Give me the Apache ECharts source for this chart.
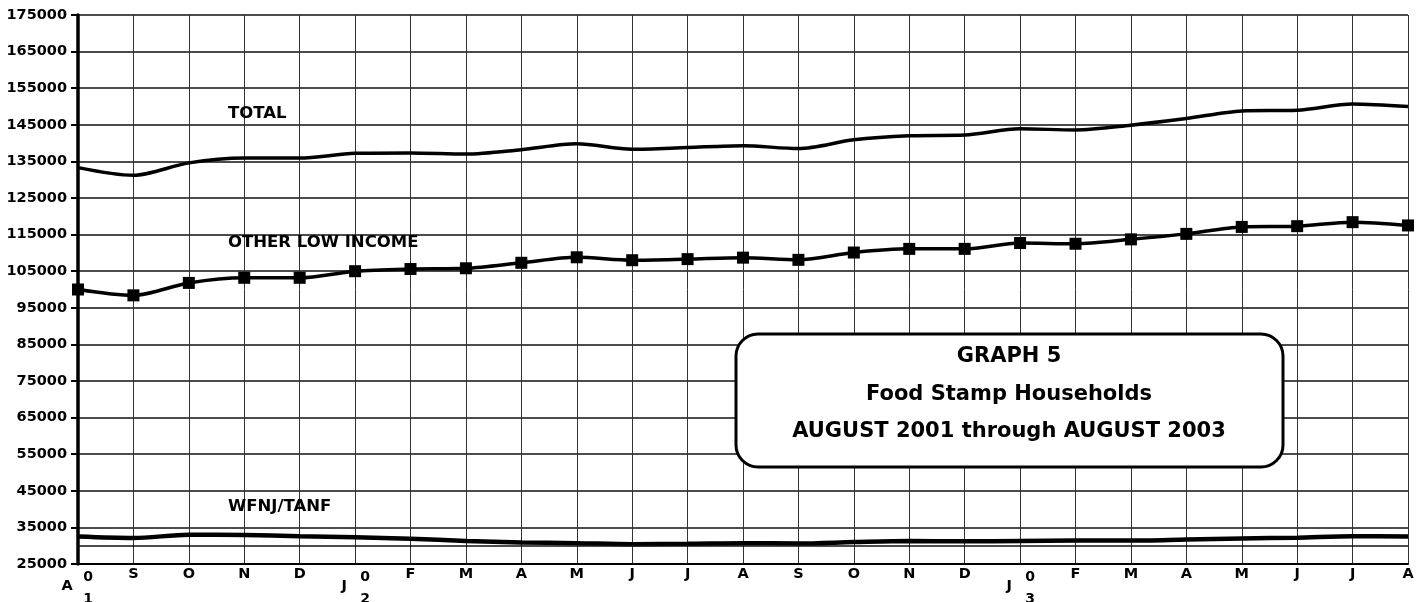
<!DOCTYPE html>
<html>
<head>
<meta charset="utf-8">
<script src="https://cdn.jsdelivr.net/npm/echarts@6/dist/echarts.min.js"></script>
<style>
html,body{margin:0;padding:0;background:#fff;}
#chart{width:1423px;height:602px;}
</style>
</head>
<body>
<div id="chart"></div>
<script>
// ---- data ----
const months = ['A','S','O','N','D','J','F','M','A','M','J','J','A','S','O','N','D','J','F','M','A','M','J','J','A'];
const yearMarks = {0:['0','1'], 5:['0','2'], 17:['0','3']};
const total = [133300,131200,134600,135900,135900,137200,137300,137000,138200,139800,138300,138800,139300,138500,140900,142000,142200,143900,143600,144900,146700,148800,149000,150700,150000];
const otherLowIncome = [100000,98400,101800,103200,103200,105000,105600,105800,107300,108800,108000,108300,108700,108100,110100,111100,111100,112700,112500,113700,115200,117100,117300,118400,117500];
const wfnjTanf = [32500,32100,33000,32900,32600,32300,31900,31300,30900,30700,30400,30500,30700,30600,31000,31300,31200,31300,31400,31400,31700,32000,32200,32600,32500];
const yMin = 25000, yMax = 175000, yStep = 10000;
const extraGridValues = [30000];
const seriesNames = ['TOTAL','OTHER LOW INCOME','WFNJ/TANF'];
const titleLines = ['GRAPH 5','Food Stamp Households','AUGUST 2001 through AUGUST 2003'];

const FONT = 'DejaVu Sans';
const chart = echarts.init(document.getElementById('chart'));

const option = {
  animation: false,
  backgroundColor: '#fff',
  grid: {left: 78, right: 15, top: 15, bottom: 38, containLabel: false, outerBoundsMode: 'none'},
  xAxis: [{
    type: 'category',
    data: months,
    boundaryGap: false,
    axisLine: {show: true, lineStyle: {color: '#000', width: 2}},
    axisTick: {show: false},
    splitLine: {show: true, lineStyle: {color: '#333', width: 1}},
    axisLabel: {
      interval: 0, margin: 3,
      formatter: (v, i) => (yearMarks[i] ? '{s|' + v + '}' : '{n|' + v + '}'),
      rich: {
        n: {fontFamily: FONT, fontWeight: 'bold', fontSize: 14.5, color: '#000'},
        s: {fontFamily: FONT, fontWeight: 'bold', fontSize: 14.5, color: '#000', padding: [12, 22, 0, 0]}
      }
    }
  }, {
    type: 'category',
    data: months,
    boundaryGap: false,
    position: 'bottom',
    axisLine: {show: false},
    axisTick: {show: false},
    splitLine: {show: false},
    axisLabel: {
      interval: 0, margin: 2,
      formatter: (v, i) => (yearMarks[i] ? '{y|' + yearMarks[i][0] + '}\n{y|' + yearMarks[i][1] + '}' : ''),
      rich: {
        y: {fontFamily: FONT, fontWeight: 'bold', fontSize: 14, color: '#000', lineHeight: 22, padding: [0, 0, 0, 20]}
      }
    }
  }],
  yAxis: {
    type: 'value',
    min: yMin, max: yMax, interval: yStep,
    axisLine: {show: true, lineStyle: {color: '#000', width: 3.5}},
    axisTick: {show: true, length: 7, lineStyle: {color: '#000', width: 2}},
    splitLine: {show: true, lineStyle: {color: '#111', width: 1.5}},
    axisLabel: {margin: 11, fontFamily: FONT, fontWeight: 'bold', fontSize: 14.5, color: '#000',
      formatter: v => String(v)}
  },
  series: [{
    name: seriesNames[0], type: 'line', data: total, smooth: 0.3,
    symbol: 'none', lineStyle: {color: '#000', width: 3.5}, z: 3
  }, {
    name: seriesNames[1], type: 'line', data: otherLowIncome, smooth: 0.3,
    symbol: 'rect', symbolSize: 12, showSymbol: true,
    itemStyle: {color: '#000'}, lineStyle: {color: '#000', width: 3.5}, z: 3
  }, {
    name: seriesNames[2], type: 'line', data: wfnjTanf, smooth: 0.3,
    symbol: 'none', lineStyle: {color: '#000', width: 4.5}, z: 3,
    markLine: {
      silent: true, symbol: 'none', label: {show: false},
      lineStyle: {color: '#111', width: 1.5, type: 'solid'},
      data: extraGridValues.map(v => ({yAxis: v}))
    }
  }],
  graphic: [
    {type: 'text', left: 228, top: 105, z: 10, style: {text: seriesNames[0], fontFamily: FONT, fontWeight: 'bold', fontSize: 16.5, fill: '#000'}},
    {type: 'text', left: 228, top: 234, z: 10, style: {text: seriesNames[1], fontFamily: FONT, fontWeight: 'bold', fontSize: 16.5, fill: '#000'}},
    {type: 'text', left: 228, top: 498, z: 10, style: {text: seriesNames[2], fontFamily: FONT, fontWeight: 'bold', fontSize: 16.5, fill: '#000'}},
    {type: 'rect', z: 20, shape: {x: 736, y: 334, width: 547, height: 133, r: 22},
      style: {fill: '#fff', stroke: '#000', lineWidth: 3}},
    {type: 'text', z: 21, x: 1009, y: 357, style: {text: titleLines[0], align: 'center', verticalAlign: 'middle', fontFamily: FONT, fontWeight: 'bold', fontSize: 21, fill: '#000'}},
    {type: 'text', z: 21, x: 1009, y: 395, style: {text: titleLines[1], align: 'center', verticalAlign: 'middle', fontFamily: FONT, fontWeight: 'bold', fontSize: 21, fill: '#000'}},
    {type: 'text', z: 21, x: 1009, y: 432, style: {text: titleLines[2], align: 'center', verticalAlign: 'middle', fontFamily: FONT, fontWeight: 'bold', fontSize: 21, fill: '#000'}}
  ]
};
chart.setOption(option);
</script>
</body>
</html>
